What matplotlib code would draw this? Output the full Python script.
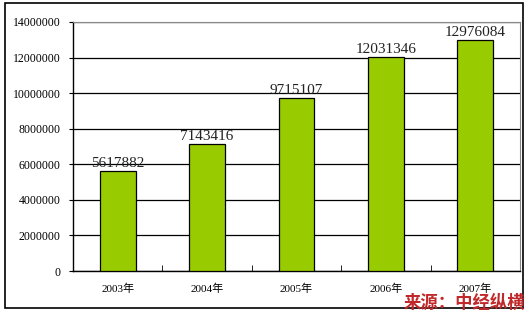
import matplotlib.pyplot as plt
from matplotlib.patches import Rectangle

years = ['2003年', '2004年', '2005年', '2006年', '2007年']
values = [5617882, 7143416, 9715107, 12031346, 12976084]
yticks = [0, 2000000, 4000000, 6000000, 8000000, 10000000, 12000000, 14000000]

fig = plt.figure(figsize=(5.32, 3.15), dpi=100)
ax = fig.add_axes([73 / 532, 1 - 271 / 315, 447 / 532, 249 / 315])

x = list(range(len(years)))
ax.bar(x, values, width=0.4, color='#99cc00', edgecolor='black', linewidth=0.9, zorder=3)

for xi, v in zip(x, values):
    ax.text(xi, v + 50000, str(v), ha='center', va='bottom', fontsize=11,
            family=['Liberation Serif'], color='#222222', zorder=4)

ax.set_xlim(-0.5, len(years) - 0.5)
ax.set_ylim(0, 14000000)
ax.set_yticks(yticks)
ax.set_yticklabels([str(t) for t in yticks], family=['Liberation Serif'], fontsize=8.5)
ax.yaxis.grid(True, color='black', linewidth=0.9, zorder=0)
ax.set_axisbelow(True)

ax.set_xticks(x)
ax.set_xticklabels(years, family=['Liberation Serif', 'Noto Sans CJK SC'], fontsize=8)
ax.tick_params(axis='x', length=0, pad=9)
ax.set_xticks([i + 0.5 for i in x[:-1]], minor=True)
ax.tick_params(axis='x', which='minor', direction='in', length=4, color='black')
ax.tick_params(axis='y', length=3, color='black', pad=6)

for side in ['top', 'right']:
    ax.spines[side].set_color('#888888')
for side in ['left', 'bottom']:
    ax.spines[side].set_color('black')
    ax.spines[side].set_linewidth(1.0)

fig.patches.append(Rectangle((5 / 532, 1 - 308 / 315), 518 / 532, 305 / 315,
                             transform=fig.transFigure, fill=False,
                             edgecolor='black', linewidth=1.2))

fig.text(525 / 532, 1 - 303 / 315, '来源：中经纵横', ha='right', va='center',
         fontsize=12.5, fontweight='bold', style='italic', color='#c0282a',
         family=['Noto Sans CJK SC'])

fig.savefig('out.png', dpi=100)
